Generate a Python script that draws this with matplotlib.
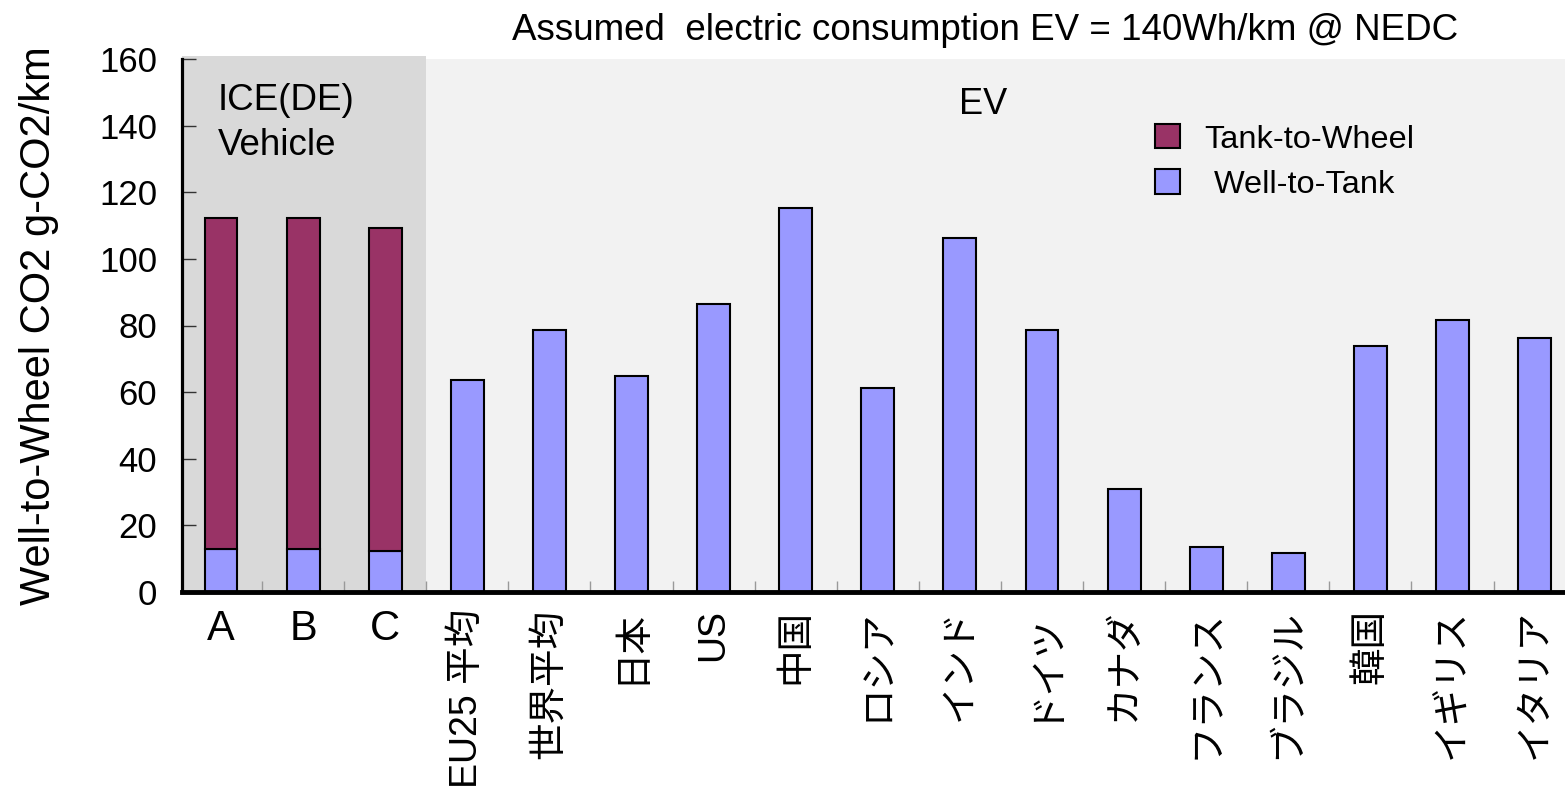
import matplotlib
matplotlib.use("Agg")
import matplotlib.pyplot as plt
from matplotlib.patches import Patch
import numpy as np

categories = ["A", "B", "C", "EU25 平均", "世界平均", "日本", "US", "中国", "ロシア",
              "インド", "ドイツ", "カナダ", "フランス", "ブラジル", "韓国", "イギリス", "イタリア"]
well_to_tank = [12.8, 12.8, 12.3, 63.5, 78.5, 64.7, 86.4, 115.3, 61.1,
                106.3, 78.5, 31.0, 13.6, 11.7, 73.8, 81.6, 76.2]
tank_to_wheel = [99.5, 99.5, 97.0, 0, 0, 0, 0, 0, 0,
                 0, 0, 0, 0, 0, 0, 0, 0]
y_ticks = [0, 20, 40, 60, 80, 100, 120, 140, 160]

C_TTW = "#993366"
C_WTT = "#9999ff"
LATIN = ["Liberation Sans", "Noto Sans CJK JP", "DejaVu Sans"]
plt.rcParams["font.family"] = LATIN

fig = plt.figure(figsize=(15.65, 7.93), dpi=100)
W, H = 1565, 793
ax = fig.add_axes([182 / W, 1 - 592 / H, (W - 182) / W, (592 - 59) / H])
ax.set_facecolor("#f2f2f2")

x = np.arange(len(categories))
ax.set_xlim(-0.475, 16.37)
ax.set_ylim(0, 160)
ax.axvspan(-0.475, 2.5, ymax=1.006, color="#d9d9d9", zorder=0, lw=0, clip_on=False)

ax.bar(x, well_to_tank, width=0.4, color=C_WTT, edgecolor="black", linewidth=1.5, zorder=3)
ttw_x = [xi for xi, v in zip(x, tank_to_wheel) if v > 0]
ttw_v = [v for v in tank_to_wheel if v > 0]
ttw_b = [b for b, v in zip(well_to_tank, tank_to_wheel) if v > 0]
ax.bar(ttw_x, ttw_v, bottom=ttw_b, width=0.4, color=C_TTW, edgecolor="black", linewidth=1.5, zorder=3)

# spines
for s in ["top", "right"]:
    ax.spines[s].set_visible(False)
ax.spines["left"].set_linewidth(2.3)
ax.spines["bottom"].set_linewidth(3.5)
ax.spines["left"].set_zorder(5)
ax.spines["bottom"].set_zorder(5)

ax.set_yticks(y_ticks)
ax.set_yticklabels([str(t) for t in y_ticks], fontsize=25)
ax.tick_params(axis="y", direction="in", length=10, width=1, pad=18, color="#333333")

ax.set_xticks(x)
ax.set_xticklabels(categories)
ax.tick_params(axis="x", which="major", length=0, pad=12)
for i, lab in enumerate(ax.get_xticklabels()):
    if i < 3:
        lab.set_fontsize(30)
        lab.set_rotation(0)
    else:
        lab.set_fontsize(27)
        lab.set_rotation(90)
        lab.set_family(["Liberation Sans", "Noto Sans CJK JP"])
ax.set_xticks(x[:-1] + 0.5, minor=True)
ax.tick_params(axis="x", which="minor", direction="in", length=8, width=1, color="#999999")

ax.set_ylabel("Well-to-Wheel CO2 g-CO2/km", fontsize=30, labelpad=29)

# annotations
fig.text(985 / W, 1 - 31 / H, "Assumed  electric consumption EV = 140Wh/km @ NEDC",
         fontsize=26.5, ha="center", va="center")
fig.text(218 / W, 1 - 123 / H, "ICE(DE)\nVehicle", fontsize=26.5, ha="left", va="center",
         linespacing=1.35)
fig.text(983 / W, 1 - 105 / H, "EV", fontsize=26, ha="center", va="center")

handles = [Patch(facecolor=C_TTW, edgecolor="black", linewidth=1.5),
           Patch(facecolor=C_WTT, edgecolor="black", linewidth=1.5)]
leg = ax.legend(handles, ["Tank-to-Wheel", " Well-to-Tank"], loc="upper left",
                bbox_to_anchor=(1155 / W, 1 - 124 / H), bbox_transform=fig.transFigure,
                frameon=False, fontsize=23.4, handlelength=0.78, handleheight=0.78,
                handletextpad=0.75, labelspacing=0.45, borderpad=0, borderaxespad=0)

fig.savefig("out.png", dpi=100, facecolor="white")
